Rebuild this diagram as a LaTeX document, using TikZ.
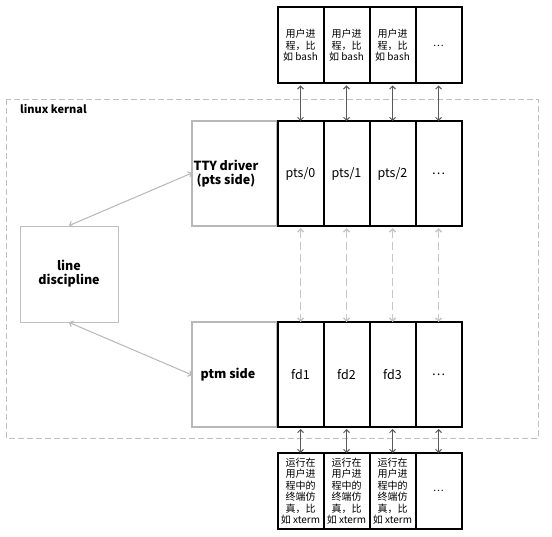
\documentclass[tikz,border=0pt]{standalone}
\usepackage{fontspec}
\setmainfont{Noto Sans CJK SC}
\usetikzlibrary{arrows.meta}
\begin{document}
\begin{tikzpicture}[x=1pt,y=-1pt,
  cell/.style={draw=black,line width=2pt,minimum width=46pt,inner sep=0pt,align=center,font=\fontsize{10}{11.5}\selectfont},
  topcell/.style={cell,minimum height=76pt},
  midcell/.style={cell,minimum height=105pt,font=\fontsize{12.5}{14}\selectfont},
  graybox/.style={draw=black!28,line width=1.5pt},
  lbl/.style={font=\bfseries\fontsize{12.5}{14}\selectfont,align=center,inner sep=0pt},
  link/.style={draw=black!65,line width=0.9pt,{Straight Barb[length=3pt,width=6pt]}-{Straight Barb[length=3pt,width=6pt]}},
  glink/.style={draw=black!28,line width=1pt,{Straight Barb[length=3pt,width=6pt]}-{Straight Barb[length=3pt,width=6pt]}},
  dlink/.style={glink,draw=black!22,line width=1.5pt,dash pattern=on 8pt off 4pt}]
\useasboundingbox[fill=white] (0,0) rectangle (552,537);
% kernel box
\draw[draw=black!25,line width=0.8pt,dash pattern=on 6pt off 3pt] (6,99) rectangle (538,438);
\node[anchor=west,inner sep=0pt,font=\bfseries\fontsize{11}{13}\selectfont] (kernal) at (20,109) {linux kernal};
% gray boxes
\draw[graybox] (192,121) rectangle (277,226);
\draw[graybox] (192,322) rectangle (277,427);
\node[lbl] (tty) at (226,174) {TTY driver\\(pts side)};
\node[lbl] (ptm) at (228,375) {ptm side};
\node[draw=black!25,line width=0.8pt,minimum width=98pt,minimum height=96pt,inner sep=0pt] (ld) at (69,274) {};
\node[lbl] (ldt) at (69,274) {line\\discipline};
\coordinate (ttyl) at (192,173);
\coordinate (ptml) at (192,375);
% columns
\foreach \i/\x/\t/\p/\f/\b in {0/300.5/{用户进\\程，比\\如 bash}/{pts/0}/fd1/{运行在\\用户进\\程中的\\终端仿\\真，比\\如 xterm},
  1/346.5/{用户进\\程，比\\如 bash}/{pts/1}/fd2/{运行在\\用户进\\程中的\\终端仿\\真，比\\如 xterm},
  2/392.5/{用户进\\程，比\\如 bash}/{pts/2}/fd3/{运行在\\用户进\\程中的\\终端仿\\真，比\\如 xterm},
  3/438.5/{…}/{…}/{…}/{…}}{
  \node[topcell] (u\i) at (\x,45.5) {\t};
  \node[midcell] (p\i) at (\x,173.5) {\p};
  \node[midcell] (f\i) at (\x,374.5) {\f};
  \node[topcell] (b\i) at (\x,491) {\b};
  \draw[link] (u\i.south) ++(0,1) -- ([yshift=-1pt]p\i.north);
  \draw[dlink] (p\i.south) ++(0,1) -- ([yshift=-1pt]f\i.north);
  \draw[link] (f\i.south) ++(0,1) -- ([yshift=-1pt]b\i.north);
}
\draw[glink] (ttyl) -- (ld.north);
\draw[glink] (ld.south) -- (ptml);
\end{tikzpicture}
\end{document}
